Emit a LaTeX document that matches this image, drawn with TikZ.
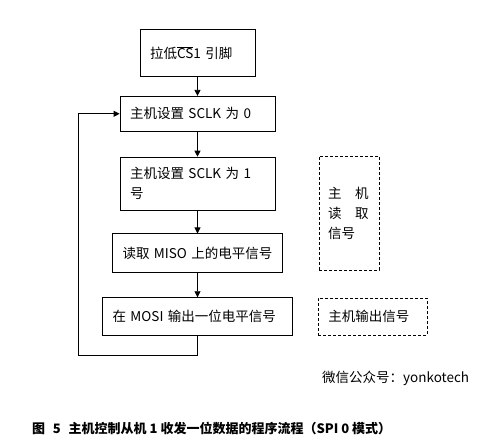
\documentclass[tikz,border=0pt]{standalone}
\usepackage{fontspec}
\setmainfont{Noto Sans CJK SC}
\usetikzlibrary{arrows.meta,positioning}
\tikzset{
  stepbox/.style={draw,rectangle,line width=0.8pt,inner xsep=10pt,inner ysep=0pt,align=left,font=\fontsize{13.5}{20}\selectfont},
  notebox/.style={stepbox,dash pattern=on 3pt off 2pt},
  arr/.style={-{Triangle[length=6pt,width=6pt]},line width=0.8pt},
  lbl/.style={font=\fontsize{13.5}{20}\selectfont,inner sep=0pt,anchor=west}
}

\begin{document}
\begin{tikzpicture}[x=1pt,y=-1pt]
  \useasboundingbox (0,0) rectangle (499,443);

  \node[stepbox,text width=95pt,minimum height=47pt] (pull) at (197.5,53) {拉低$\overline{\mbox{CS}}$1 引脚};
  \node[stepbox,text width=135pt,minimum height=35pt,below=19pt of pull] (clk0) {主机设置 SCLK 为 0};
  \node[stepbox,text width=135pt,minimum height=53pt,below=25pt of clk0] (clk1) {主机设置 SCLK 为 1\\号};
  \node[stepbox,text width=150pt,minimum height=39pt,below=23pt of clk1] (miso) {读取 MISO 上的电平信号};
  \node[stepbox,text width=170pt,minimum height=38pt,below=24pt of miso] (mosi) {在 MOSI 输出一位电平信号};

  \node[notebox,text width=42pt,inner xsep=9pt,minimum height=114pt] (rdnote) at (349,213) {主\hspace{1em}机\\读\hspace{1em}取\\信号};
  \node[notebox,text width=89pt,minimum height=37pt,right=25pt of mosi] (wrnote) {主机输出信号};

  \draw[arr] (pull) -- (clk0);
  \draw[arr] (clk0) -- (clk1);
  \draw[arr] (clk1) -- (miso);
  \draw[arr] (miso) -- (mosi);

  % back to the clock step
  \coordinate (loop) at (78,355);
  \draw[arr] (mosi.south) |- (loop) |- (clk0.west);

  \node[lbl] (wx) at (322,378) {微信公众号：yonkotech};
  \node[lbl,font=\fontsize{13}{20}\selectfont\bfseries] (cap) at (32,428) {图\hspace{0.6em}5\hspace{0.6em}主机控制从机 1 收发一位数据的程序流程（SPI 0 模式）};
\end{tikzpicture}
\end{document}
